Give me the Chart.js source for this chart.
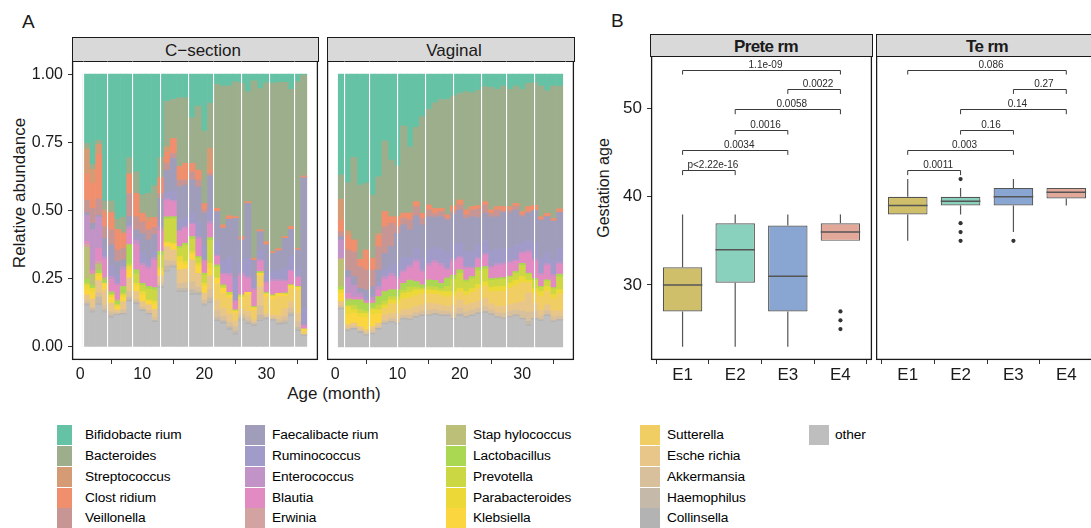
<!DOCTYPE html>
<html><head><meta charset="utf-8">
<title>Microbiome composition and gestation age</title>
<script src="https://cdn.jsdelivr.net/npm/chart.js@4.4.1/dist/chart.umd.min.js"></script>
<style>
html,body{margin:0;padding:0;background:#fff;}
body{width:1091px;height:528px;overflow:hidden;position:relative;font-family:"Liberation Sans",Arial,sans-serif;color:#1a1a1a;}
canvas{position:absolute;}
.t{position:absolute;white-space:nowrap;line-height:1;}
.c{transform:translate(-50%,-50%);}
.r{transform:translate(-50%,-50%) rotate(-90deg);}
.strip{position:absolute;background:#d9d9d9;border:1.3px solid #1a1a1a;box-sizing:border-box;}
.sw{position:absolute;height:20px;}
.lt{position:absolute;font-size:13.7px;line-height:20px;white-space:nowrap;color:#000;letter-spacing:-0.1px;}
</style></head><body>

<div class="t" style="left:22px;top:12px;font-size:19px;">A</div>
<div class="t" style="left:611px;top:11px;font-size:19px;">B</div>

<div class="strip" style="left:72px;top:37px;width:247px;height:25px;"></div>
<div class="t c" style="left:203px;top:49.5px;font-size:17px;">C−section</div>
<div class="strip" style="left:327px;top:37px;width:248px;height:25px;"></div>
<div class="t c" style="left:454px;top:49.5px;font-size:17px;">Vaginal</div>

<div class="strip" style="left:650px;top:34px;width:223px;height:23px;"></div>
<div class="t c" style="left:766px;top:45.5px;font-size:17px;font-weight:bold;letter-spacing:-0.6px;">Prete rm</div>
<div class="strip" style="left:876px;top:34px;width:230px;height:23px;"></div>
<div class="t c" style="left:987px;top:45.5px;font-size:17px;font-weight:bold;letter-spacing:-0.6px;">Te rm</div>

<div class="t r" style="left:19px;top:193px;font-size:17px;">Relative abundance</div>
<div class="t c" style="left:334px;top:393px;font-size:17px;">Age (month)</div>
<div class="t r" style="left:604px;top:188px;font-size:16px;">Gestation age</div>

<canvas id="cs" width="319" height="325" style="left:0px;top:61px;"></canvas>
<canvas id="vg" width="248" height="325" style="left:327px;top:61px;"></canvas>
<canvas id="pt" width="262" height="334" style="left:611px;top:56px;"></canvas>
<canvas id="tm" width="222" height="334" style="left:876px;top:56px;"></canvas>

<div id="legend"></div>

<script>
// ---------------- Panel A data ----------------
const months = [1,2,3,4,5,6,7,8,9,10,11,12,13,14,15,16,17,18,19,20,21,22,23,24,25,26,27,28,29,30,31,32,33,34,35,36];
const monthTicks = [0,10,20,30];
const abundTicks = [0,0.25,0.5,0.75,1];
const abundTickLabels = ['0.00','0.25','0.50','0.75','1.00'];
const gapsCsection = [2.5,6.5,10.5,15.5,19.5,23.5,28.5,32.5];
const gapsVaginal = [3.5,7.5,12.5,16.5,21.5,25.5,29.5,34.5];

// C-section
const cOther = [.15,.125,.155,.125,.105,.115,.118,.165,.155,.13,.118,.09, .215,.275,.29,.2,.2,.19,.19,.15,.16,.093,.085,.062, .044,.095,.082,.075,.093,.1,.095,.08,.082,.112,.057,.04];
const cCollinsella = [.004,.005,.005,.004,.006,.005,.005,.007,.005,.006,.005,.005, .005,.005,.004,.005,.005,.006,.006,.005,.006,.005,.005,.005, .005,.005,.005,.005,.005,.005,.005,.005,.005,.005,.005,.004];
const cHaemophilus = [.006,.008,.025,.009,.007,0,0,.01,.005,0,0,0, .005,.016,.006,.009,.01,.013,.006,.005,.014,.01,.007,.008, .01,.008,.008,.004,.018,.003,0,.005,.008,.008,.01,0];
const cAkkermansia = [.01,.007,.015,.015,.012,.006,.013,.02,.008,.01,.011,.012, .01,.02,.015,.018,.02,.03,.017,.012,.03,.024,.015,.015, .016,.012,.015,.006,.035,.005,.007,.01,.015,.016,.021,0];
const cEscherichia = [.02,.03,.045,.05,.03,.01,.03,.05,.03,.02,.02,.03, .025,.05,.04,.05,.05,.08,.05,.025,.05,.04,.03,.03, .02,.02,.02,.01,.07,.01,.01,.015,.03,.025,.03,0];
const cSutterella = [0,0,0,.008,0,0,0,0,0,0,0,0, 0,0,0,0,0,0,0,0,0,.06,.055,.06, .03,.035,.06,.035,.04,.06,.058,.07,.045,.05,.085,.015];
const cKlebsiella = [.02,.025,.018,.022,.02,.01,.016,.03,.02,.025,.012,.02, .02,.012,.02,.03,.015,.02,.025,.025,.025,.02,.018,.01, .005,.007,.01,.008,.009,.011,.01,.01,.007,.007,.01,.006];
const cParabacteroides = [.017,.015,.009,0,.01,.008,.008,.012,.01,.012,.006,.01, .01,.006,.005,.019,.013,.01,.011,.011,.021,0,0,0, 0,0,0,0,0,0,0,0,0,0,0,0];
const cPrevotella = [.006,0,0,0,0,0,.006,.01,.035,.022,.04,.04, .045,.083,.09,.03,.058,.045,.02,.03,.085,.04,.008,.01, .005,.008,0,0,0,0,.005,0,.005,.004,.003,0];
const cLactobacillus = [.015,.012,.012,.012,.008,.012,.025,.07,.014,.008,.009,.009, .015,.008,.007,.007,.009,.01,.005,.007,.009,.008,.004,0, 0,0,0,.005,.006,.005,0,0,0,0,0,0];
const cStaphylococcus = [.117,.04,.022,.007,.005,.006,0,0,0,0,0,0, 0,0,0,0,0,0,0,0,0,0,0,0, 0,0,0,0,0,0,0,0,0,0,0,0];
const cErwinia = [.012,0,.01,.004,0,0,0,0,0,0,0,0, 0,0,0,0,0,0,0,0,0,0,0,0, 0,0,0,0,0,0,0,0,0,0,0,0];
const cBlautia = [.009,.015,.049,.065,.045,.055,.06,.055,.095,.065,.065,.1, .075,.06,.055,.055,.055,.045,.065,.045,.05,.032,.04,.06, .03,.07,.05,.06,.038,.035,.05,.045,.042,.05,.033,.013];
const cEnterococcus = [.096,.149,.116,.01,.01,.006,.013,.012,.015,.008,.008,.01, .015,.008,.006,.006,.006,.004,.008,.004,.01,.005,.003,.01, .007,.01,.008,.007,.005,.005,.008,.007,.006,.005,.004,.003];
const cRuminococcus = [0,0,0,.02,.04,.03,0,.01,.01,.04,.028,.025, .024,.023,.033,.038,.032,.039,.053,.051,.046,.049,.045,.058, .079,.042,.068,.032,.033,.035,.03,.03,.043,.049,.027,.06];
const cFaecalibacterium = [.01,.022,.006,.047,.076,.05,.025,.026,.027,.07,.07,.06, .08,.08,.12,.12,.12,.12,.13,.12,.12,.11,.12,.14, .22,.08,.2,.07,.07,.1,.065,.075,.11,.1,.07,.48];
const cVeillonella = [.046,.055,.061,.043,.055,.042,.043,.085,.048,.043,.037,.025, .018,.026,.018,.025,.019,.03,.025,.012,.01,0,0,0, 0,0,0,0,0,0,0,0,0,0,0,0];
const cClostridium = [.096,.092,.165,.049,.063,.076,.055,.071,.086,.031,.03,.036, .058,.04,.055,.049,.061,.031,.036,.024,.012,.012,.012,.012, .006,.012,.006,.008,.007,.012,.006,.008,.006,.01,.006,.005];
const cStreptococcus = [.091,.051,.037,.012,0,0,0,0,0,0,.016,0, 0,.02,0,0,0,0,0,0,.08,0,0,0, 0,0,0,0,0,0,0,0,0,0,0,0];
const cBacteroides = [.021,.018,.015,.033,.043,.037,.059,.06,.079,.067,.088,.116, .074,.166,.143,.252,.24,.167,.235,.265,.165,.455,.509,.477, .495,.562,.403,.65,.518,.582,.617,.61,.566,.503,.611,.37];
const cBifidobacterium = [.254,.331,.245,.465,.465,.532,.524,.306,.358,.443,.437,.407, .305,.1,.093,.087,.087,.16,.117,.209,.107,.037,.044,.043, .028,.034,.065,.025,.053,.032,.034,.03,.03,.056,.028,.004];

// Vaginal
const vOther = [.137,.057,.063,.05,.04,.045,.063,.082,.088,.082,.1,.096, .106,.112,.112,.116,.112,.112,.1,.112,.106,.112,.119,.124, .116,.106,.1,.107,.112,.1,.076,.1,.094,.112,.09,.095];
const vCollinsella = [.005,.005,.005,.005,.004,.005,.005,.005,.005,.005,.005,.005, .005,.005,.005,.005,.005,.005,.005,.005,.005,.005,.005,.005, .005,.005,.005,.005,.005,.005,.005,.005,.005,.005,.005,.005];
const vHaemophilus = [0,0,0,.002,0,0,0,0,0,0,0,0, 0,0,0,0,0,0,0,.005,0,0,0,0, 0,0,0,0,0,0,.013,0,0,0,0,0];
const vAkkermansia = [.009,.007,.007,.007,.008,.009,.007,.01,.012,.014,.011,.015, .015,.015,.018,.015,.015,.013,.019,.02,.018,.018,.018,.019, .015,.015,.018,.018,.018,.026,.033,.025,.015,.015,.015,.013];
const vEscherichia = [.015,.012,.012,.01,.01,.015,.012,.02,.018,.022,.02,.022, .022,.022,.025,.022,.022,.018,.03,.03,.025,.025,.025,.03, .022,.022,.025,.025,.025,.035,.07,.03,.022,.022,.022,.018];
const vSutterella = [0,0,0,0,0,0,0,.025,.035,.035,.04,.04, .04,.04,.035,.035,.035,.035,.035,.03,.035,.04,.045,.045, .045,.055,.055,.06,.065,.07,.038,.038,.05,.05,.045,.062];
const vKlebsiella = [.03,.04,.035,.035,.045,.045,.035,0,0,0,0,0, 0,0,0,0,0,0,0,0,0,0,0,0, 0,0,0,0,0,0,0,0,0,0,0,0];
const vParabacteroides = [.013,.027,.014,.014,.016,.017,.014,.012,.014,.014,.021,.021, .021,.015,.014,.014,.014,.02,.014,.013,.014,.015,.016,.016, .016,.018,.018,.019,.02,.022,.01,.016,.017,.017,.016,.017];
const vPrevotella = [0,.005,.016,.014,.007,.006,.018,.014,.012,.012,.011,.018, .01,.006,.012,.012,.01,.019,.046,.055,.035,.035,.05,.045, .025,.025,.025,.02,.025,.04,.02,.03,.015,.02,.02,.045];
const vLactobacillus = [.012,.015,.02,.035,.03,.018,.03,.035,.025,.025,.025,.025, .02,.012,.024,.024,.02,.03,.015,.012,.007,.008,.011,.01, .006,.006,.006,.005,.006,.008,.005,.007,.003,.004,.004,.01];
const vStaphylococcus = [.1,.009,0,0,0,0,0,0,0,0,0,0, 0,0,0,0,0,0,0,0,0,0,0,0, 0,0,0,0,0,0,0,0,0,0,0,0];
const vErwinia = [.004,0,0,0,0,0,0,0,0,0,0,0, 0,0,0,0,0,0,0,0,0,0,0,0, 0,0,0,0,0,0,0,0,0,0,0,0];
const vBlautia = [0,.02,.01,.01,.008,.012,.025,.045,.05,.04,.04,.045, .07,.047,.052,.065,.063,.03,.05,.042,.042,.03,.03,.042, .04,.046,.047,.047,.037,.036,.075,.065,.042,.052,.042,.036];
const vEnterococcus = [.067,.06,.045,.015,.004,.012,.012,.01,.011,.009,.009,.009, .01,.008,.009,.009,.01,.006,.01,.007,.007,.006,.007,.007, .006,.008,.008,.008,.006,.007,.01,.008,.007,.008,.007,.007];
const vRuminococcus = [0,0,0,0,.012,.01,.016,.025,.028,.048,.045,.029, .041,.045,.051,.048,.051,.057,.055,.051,.057,.053,.046,.047, .06,.051,.053,.047,.053,.033,.035,.057,.055,.042,.055,.053];
const vFaecalibacterium = [.012,.024,.031,.018,.025,.027,.045,.06,.07,.11,.12,.1, .12,.12,.12,.11,.12,.12,.11,.12,.12,.13,.1,.1, .12,.12,.13,.13,.13,.095,.1,.12,.14,.13,.14,.13];
const vVeillonella = [.018,.076,.091,.079,.073,.061,.085,.098,.085,.025,.024,.036, .034,.024,.025,.013,.019,.006,.012,.018,.013,.025,.031,.03, .014,.025,.006,.012,.014,.007,.006,0,0,0,0,0];
const vClostridium = [.043,.055,.043,.027,.073,.043,.039,.055,.024,.036,.019,.025, .018,.019,.018,.018,.012,.013,.018,.018,.018,.012,.012,.012, .012,.012,.015,.01,.01,.012,.018,.019,.012,.012,.01,.012];
const vStreptococcus = [.076,.015,0,0,0,0,.01,0,0,0,0,0, 0,0,0,0,0,0,0,0,0,0,0,0, 0,0,0,0,0,0,0,0,0,0,0,0];
const vBacteroides = [.089,.178,.303,.272,.245,.232,.208,.259,.208,.186,.32,.24, .273,.354,.351,.387,.399,.423,.405,.391,.433,.418,.421,.422, .449,.43,.439,.43,.43,.448,.452,.45,.479,.449,.485,.448];
const vBifidobacterium = [.37,.4,.305,.407,.4,.443,.376,.245,.315,.337,.19,.264, .195,.156,.129,.105,.093,.093,.081,.071,.065,.068,.059,.046, .049,.056,.044,.056,.044,.056,.034,.032,.044,.061,.044,.044];

// stacking order (bottom -> top)
const taxaOrder = ['other','Collinsella','Haemophilus','Akkermansia','Escherichia','Sutterella','Klebsiella','Parabacteroides','Prevotella','Lactobacillus','Staphylococcus','Erwinia','Blautia','Enterococcus','Ruminococcus','Faecalibacterium','Veillonella','Clostridium','Streptococcus','Bacteroides','Bifidobacterium'];
const taxaColors = {Bifidobacterium:'#66C2A5',Bacteroides:'#9DAE8C',Streptococcus:'#D59B74',Clostridium:'#F08F6D',Veillonella:'#C79694',Faecalibacterium:'#9F9DBA',Ruminococcus:'#A09BC9',Enterococcus:'#C193C6',Blautia:'#E28BC3',Erwinia:'#D2A3A0',Staphylococcus:'#BBBF77',Lactobacillus:'#ABD852',Prevotella:'#CBD844',Parabacteroides:'#ECD937',Klebsiella:'#FBD63F',Sutterella:'#F1CE64',Escherichia:'#E8C689',Akkermansia:'#D8C09D',Haemophilus:'#C5B9AA',Collinsella:'#B3B3B3',other:'#BEBEBE'};

// legend (column-major, as in the figure)
const legendKeys = ['Bifidobacterium','Bacteroides','Streptococcus','Clostridium','Veillonella','Faecalibacterium','Ruminococcus','Enterococcus','Blautia','Erwinia','Staphylococcus','Lactobacillus','Prevotella','Parabacteroides','Klebsiella','Sutterella','Escherichia','Akkermansia','Haemophilus','Collinsella','other'];
const legendLabels = ['Bifidobacte rium','Bacteroides','Streptococcus','Clost ridium','Veillonella','Faecalibacte rium','Ruminococcus','Enterococcus','Blautia','Erwinia','Stap hylococcus','Lactobacillus','Prevotella','Parabacteroides','Klebsiella','Sutterella','Esche richia','Akkermansia','Haemophilus','Collinsella','other'];

const csection = {other:cOther,Collinsella:cCollinsella,Haemophilus:cHaemophilus,Akkermansia:cAkkermansia,Escherichia:cEscherichia,Sutterella:cSutterella,Klebsiella:cKlebsiella,Parabacteroides:cParabacteroides,Prevotella:cPrevotella,Lactobacillus:cLactobacillus,Staphylococcus:cStaphylococcus,Erwinia:cErwinia,Blautia:cBlautia,Enterococcus:cEnterococcus,Ruminococcus:cRuminococcus,Faecalibacterium:cFaecalibacterium,Veillonella:cVeillonella,Clostridium:cClostridium,Streptococcus:cStreptococcus,Bacteroides:cBacteroides,Bifidobacterium:cBifidobacterium};
const vaginal = {other:vOther,Collinsella:vCollinsella,Haemophilus:vHaemophilus,Akkermansia:vAkkermansia,Escherichia:vEscherichia,Sutterella:vSutterella,Klebsiella:vKlebsiella,Parabacteroides:vParabacteroides,Prevotella:vPrevotella,Lactobacillus:vLactobacillus,Staphylococcus:vStaphylococcus,Erwinia:vErwinia,Blautia:vBlautia,Enterococcus:vEnterococcus,Ruminococcus:vRuminococcus,Faecalibacterium:vFaecalibacterium,Veillonella:vVeillonella,Clostridium:vClostridium,Streptococcus:vStreptococcus,Bacteroides:vBacteroides,Bifidobacterium:vBifidobacterium};

// ---------------- Panel B data ----------------
const groups = ['E1','E2','E3','E4'];
const groupX = [1,2,3,4];
const gestTicks = [30,40,50];
const boxColors = ['#CFBF6B','#89D1BC','#88A6D1','#E2A99A'];

const preLow  = [23,23,23,35];
const preQ1   = [27,30.25,27,35];
const preMed  = [30,34,31,36];
const preQ3   = [32,37,36.75,37];
const preHigh = [38,38,38,38];
const preOutX = [4,4,4];
const preOutY = [27,26,25];

const termLow  = [35,38,36,39];
const termQ1   = [38,39,39,39.8];
const termMed  = [39,39.5,40,40.5];
const termQ3   = [40,40,41,41];
const termHigh = [42,41,42,41];
const termOutX = [2,2,2,2,3];
const termOutY = [42,37,36,35,35];

const bracketFrom = [1,1,2,2,3,1];
const bracketTo   = [2,3,3,4,4,4];
const bracketY    = [43,45.3,47.6,49.9,52.2,54.4];
const preLabels   = ['p<2.22e-16','0.0034','0.0016','0.0058','0.0022','1.1e-09'];
const termLabels  = ['0.0011','0.003','0.16','0.14','0.27','0.086'];

// ---------------- drawing ----------------
Chart.defaults.font.family = '"Liberation Sans", Arial, sans-serif';
Chart.defaults.color = '#1a1a1a';

const framePlugin = {id:'frame', afterDraw(chart){
  const a = chart.chartArea, c = chart.ctx;
  c.save(); c.strokeStyle = '#1a1a1a'; c.lineWidth = 1.3;
  c.strokeRect(a.left + 0.6, a.top, a.right - a.left - 1.2, a.bottom - a.top - 0.6);
  c.restore();
}};

function fixVertical(width){
  return s => { s.width = width; s.paddingTop = 0; s.paddingBottom = 0; };
}
function fixHorizontal(height){
  return s => { s.height = height; s.paddingLeft = 0; s.paddingRight = 0; };
}

function stackChart(id, series, gaps, withY){
  // relative abundance: each sample's read values expressed as a share of that sample's total
  const totals = months.map((m, i) => taxaOrder.reduce((s, k) => s + series[k][i], 0));
  const ds = taxaOrder.map(k => ({
    label: k,
    data: months.map((m, i) => ({x: m, y: series[k][i] / totals[i]})),
    backgroundColor: taxaColors[k], borderWidth: 0,
    barPercentage: 1, categoryPercentage: 1
  }));
  return new Chart(document.getElementById(id), {
    type: 'bar', data: {datasets: ds},
    options: {
      responsive: false, animation: false, events: [],
      layout: {padding: {left: 0, right: 1, top: 0, bottom: 0}, autoPadding: false},
      plugins: {legend: {display: false}, tooltip: {enabled: false}},
      scales: {
        x: {type: 'linear', stacked: true, min: -1.3, max: 38.3, offset: false, position: 'bottom',
            afterBuildTicks: s => { s.ticks = monthTicks.map(v => ({value: v})); },
            afterFit: fixHorizontal(26),
            ticks: {font: {size: 16}, color: '#1a1a1a', padding: 1, maxRotation: 0, autoSkip: false},
            grid: {drawOnChartArea: false, tickLength: 4, color: '#333', lineWidth: 1},
            border: {display: false}},
        xg: {type: 'linear', axis: 'x', position: 'bottom', min: -1.3, max: 38.3, offset: false,
            afterBuildTicks: s => { s.ticks = gaps.map(v => ({value: v})); },
            afterFit: fixHorizontal(0),
            ticks: {display: false},
            grid: {color: '#ffffff', lineWidth: 1.1, z: 1, drawTicks: false},
            border: {display: false}},
        y: {type: 'linear', stacked: true, min: -0.048, max: 1.048, display: withY,
            afterBuildTicks: s => { s.ticks = abundTicks.map(v => ({value: v})); },
            afterFit: fixVertical(withY ? 72 : 0),
            ticks: {callback: (v, i) => abundTickLabels[i], font: {size: 16}, color: '#1a1a1a', padding: 5},
            grid: {drawOnChartArea: false, tickLength: 4, color: '#333', lineWidth: 1},
            border: {display: false}}
      }
    },
    plugins: [framePlugin]
  });
}

function boxChart(id, st, outX, outY, labels, withY){
  const whiskers = {id: 'whiskers', afterDatasetsDraw(chart){
    const x = chart.scales.x, y = chart.scales.y, c = chart.ctx;
    const meta = chart.getDatasetMeta(0);
    c.save(); c.strokeStyle = '#555'; c.lineWidth = 1.2;
    groupX.forEach((g, i) => {
      const cx = x.getPixelForValue(g), hw = meta.data[i].width / 2;
      c.beginPath();
      c.moveTo(cx, y.getPixelForValue(st.lo[i])); c.lineTo(cx, y.getPixelForValue(st.q1[i]));
      c.moveTo(cx, y.getPixelForValue(st.q3[i])); c.lineTo(cx, y.getPixelForValue(st.hi[i]));
      c.stroke();
      c.beginPath(); c.lineWidth = 1.5;
      const my = y.getPixelForValue(st.med[i]);
      c.moveTo(cx - hw, my); c.lineTo(cx + hw, my); c.stroke();
      c.lineWidth = 1.2;
    });
    // significance brackets
    c.strokeStyle = '#3a3a3a'; c.lineWidth = 1; c.fillStyle = '#2a2a2a';
    c.font = '10px "Liberation Sans", Arial, sans-serif';
    c.textAlign = 'center'; c.textBaseline = 'alphabetic';
    bracketY.forEach((by, i) => {
      const x1 = x.getPixelForValue(bracketFrom[i]), x2 = x.getPixelForValue(bracketTo[i]);
      const yy = Math.round(y.getPixelForValue(by)) + 0.5, yt = y.getPixelForValue(by - 0.55);
      c.beginPath(); c.moveTo(x1, yt); c.lineTo(x1, yy); c.lineTo(x2, yy); c.lineTo(x2, yt); c.stroke();
      c.fillText(labels[i], (x1 + x2) / 2 + 4, yy - 2.5);
    });
    c.restore();
  }};
  return new Chart(document.getElementById(id), {
    type: 'bar',
    data: {datasets: [
      {type: 'bar', data: groupX.map((g, i) => ({x: g, y: [st.q1[i], st.q3[i]]})),
       backgroundColor: boxColors, borderColor: '#555', borderWidth: 1.2, borderSkipped: false,
       barPercentage: 0.75, categoryPercentage: 1},
      {type: 'scatter', data: outX.map((g, i) => ({x: g, y: outY[i]})),
       pointRadius: 2.1, backgroundColor: '#333', borderWidth: 0}
    ]},
    options: {
      responsive: false, animation: false, events: [],
      layout: {padding: {left: 0, right: withY ? 1 : 0, top: 0, bottom: 0}, autoPadding: false},
      plugins: {legend: {display: false}, tooltip: {enabled: false}},
      scales: {
        x: {type: 'linear', min: 0.4, max: 4.6, offset: false,
            afterBuildTicks: s => { s.ticks = groupX.map(v => ({value: v})); },
            afterFit: fixHorizontal(30),
            ticks: {callback: (v, i) => groups[i], font: {size: 17}, color: '#1a1a1a', padding: 1, maxRotation: 0, autoSkip: false},
            grid: {drawOnChartArea: false, tickLength: 4, color: '#333', lineWidth: 1},
            border: {display: false}},
        y: {type: 'linear', min: 21.5, max: 55.95, display: withY,
            afterBuildTicks: s => { s.ticks = gestTicks.map(v => ({value: v})); },
            afterFit: fixVertical(withY ? 40 : 0),
            ticks: {font: {size: 17}, color: '#1a1a1a', padding: 5},
            grid: {drawOnChartArea: false, tickLength: 4, color: '#333', lineWidth: 1},
            border: {display: false}}
      }
    },
    plugins: [whiskers, framePlugin]
  });
}

stackChart('cs', csection, gapsCsection, true);
stackChart('vg', vaginal, gapsVaginal, false);
boxChart('pt', {lo: preLow, q1: preQ1, med: preMed, q3: preQ3, hi: preHigh}, preOutX, preOutY, preLabels, true);
boxChart('tm', {lo: termLow, q1: termQ1, med: termMed, q3: termQ3, hi: termHigh}, termOutX, termOutY, termLabels, false);

// legend
const legSwX = [57, 245, 446, 640, 809];
const legSwW = [15, 20, 20, 20, 20];
const legTxX = [85, 272, 473, 667, 835];
const legRowY = [425, 446, 467, 488, 508];
const leg = document.getElementById('legend');
legendKeys.forEach((k, i) => {
  const col = Math.floor(i / 5), row = i % 5;
  const sw = document.createElement('div');
  sw.className = 'sw';
  sw.style.left = legSwX[col] + 'px'; sw.style.top = legRowY[row] + 'px';
  sw.style.width = legSwW[col] + 'px';
  sw.style.background = taxaColors[k];
  leg.appendChild(sw);
  const tx = document.createElement('div');
  tx.className = 'lt';
  tx.style.left = legTxX[col] + 'px'; tx.style.top = legRowY[row] + 'px';
  tx.textContent = legendLabels[i];
  leg.appendChild(tx);
});
</script>
</body></html>
